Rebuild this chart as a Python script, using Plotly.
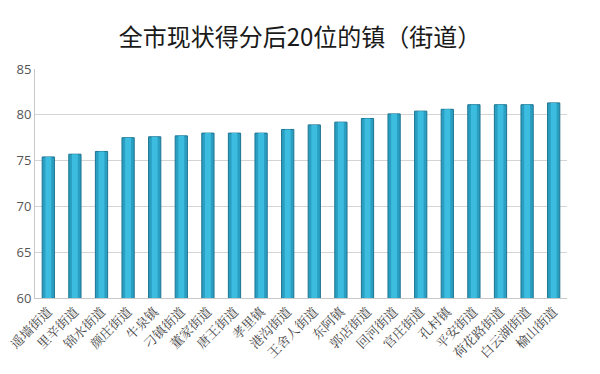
import plotly.graph_objects as go

categories = ["遥墙街道", "里辛街道", "锦水街道", "颜庄街道", "牛泉镇", "刁镇街道", "董家街道",
              "唐王街道", "孝里镇", "港沟街道", "王舍人街道", "东阿镇", "郭店街道", "回河街道",
              "官庄街道", "孔村镇", "平安街道", "荷花路街道", "白云湖街道", "榆山街道"]
scores = [75.4, 75.7, 76.0, 77.5, 77.6, 77.7, 78.0, 78.0, 78.0, 78.4,
          78.9, 79.2, 79.6, 80.1, 80.4, 80.6, 81.1, 81.1, 81.1, 81.3]
y_ticks = [60, 65, 70, 75, 80, 85]

fig = go.Figure()
fig.add_trace(go.Bar(x=categories, y=scores, width=0.46,
                     marker=dict(color="#2a9fc2", line=dict(color="#1b7390", width=1)),
                     hoverinfo="x+y"))
fig.add_trace(go.Bar(x=categories, y=scores, width=0.22,
                     marker=dict(color="#3cbde0", line=dict(width=0)),
                     hoverinfo="skip"))

fig.update_layout(
    width=600, height=374,
    margin=dict(l=35, r=33, t=69, b=76),
    paper_bgcolor="white", plot_bgcolor="white",
    barmode="overlay", showlegend=False,
    title=dict(text="全市现状得分后20位的镇（街道）", x=0.5, xanchor="center", y=0.90,
               yanchor="middle", automargin=False,
               font=dict(family="Noto Sans CJK SC", size=24, color="#1a1a1a")),
    xaxis=dict(tickangle=-45, showline=True, linecolor="#c8c8c8", linewidth=1, automargin=False,
               tickfont=dict(family="Noto Serif CJK SC, Noto Sans CJK SC", size=13, color="#444"),
               ticks="", showgrid=False),
    yaxis=dict(range=[60, 85], tickvals=y_ticks, showgrid=True, gridcolor="#d4d4d4",
               showline=True, linecolor="#c8c8c8", linewidth=1, zeroline=False, automargin=False,
               tickfont=dict(family="Open Sans, Noto Sans", size=13, color="#555"), ticks=""),
)

fig.write_html("out.html", config={"displayModeBar": False},
               post_script="document.body.style.margin='0';document.body.style.overflow='hidden';")
